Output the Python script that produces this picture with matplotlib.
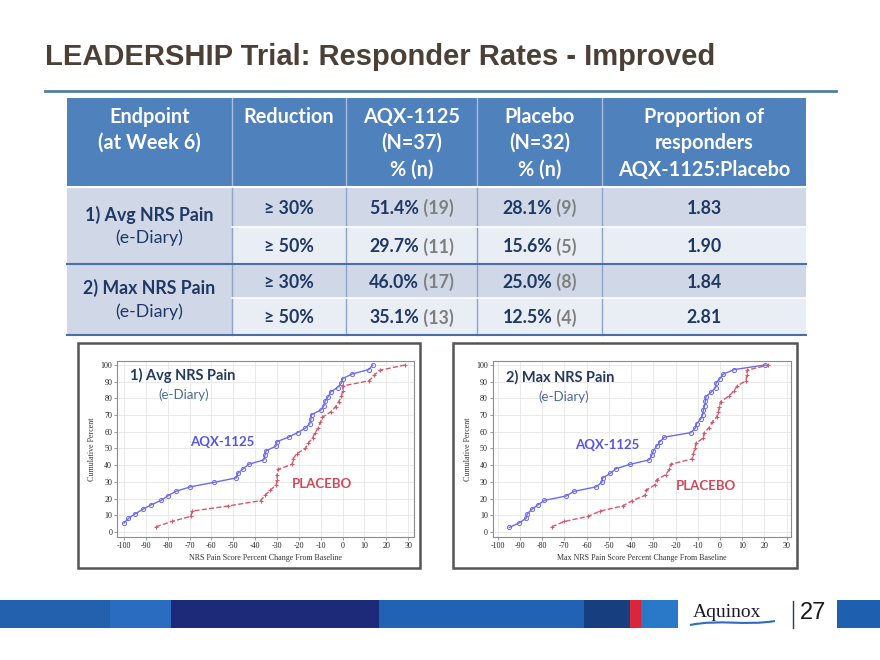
import numpy as np
import matplotlib
matplotlib.use("Agg")
import matplotlib.pyplot as plt
from matplotlib.patches import Rectangle, PathPatch
from matplotlib.path import Path

plt.rcParams["axes.unicode_minus"] = False

# ---- table data ----
header_cols = [["Endpoint", "(at Week 6)"],
               ["Reduction"],
               ["AQX-1125", "(N=37)", "% (n)"],
               ["Placebo", "(N=32)", "% (n)"],
               ["Proportion of", "responders", "AQX-1125:Placebo"]]
endpoints = [("1) Avg NRS Pain", "(e-Diary)"), ("2) Max NRS Pain", "(e-Diary)")]
reductions = ["\u2265 30%", "\u2265 50%", "\u2265 30%", "\u2265 50%"]
aqx_pct = ["51.4%", "29.7%", "46.0%", "35.1%"]
aqx_n = ["(19)", "(11)", "(17)", "(13)"]
pbo_pct = ["28.1%", "15.6%", "25.0%", "12.5%"]
pbo_n = ["(9)", "(5)", "(8)", "(4)"]
ratios = ["1.83", "1.90", "1.84", "2.81"]

# ---- cumulative distribution data ----
avg_aqx_x = [-100, -98, -95, -91.5, -87.7, -83, -80, -76.4, -69.7, -59, -48.6, -48,
             -45.5, -43, -36, -35.5, -35, -30.5, -30, -24.7, -20.6, -17, -15, -14.5,
             -14.2, -10, -8.5, -8, -6.5, -5.5, -2.3, -0.5, 0, 4.4, 12, 13.8]
avg_aqx_y = [5.4, 8.1, 10.8, 13.5, 16.2, 18.9, 21.6, 24.3, 27.0, 29.7, 32.4, 35.1,
             37.8, 40.5, 43.2, 45.9, 48.6, 51.4, 54.1, 56.8, 59.5, 62.2, 64.9, 67.6,
             70.3, 73.0, 75.7, 78.4, 81.1, 83.8, 86.5, 89.2, 91.9, 94.6, 97.3, 100]
avg_pbo_x = [-85.4, -78.2, -69.4, -68.8, -52.2, -37.5, -35.5, -33.2, -30.3, -30, -29.9,
             -29.5, -23, -22.6, -21, -17, -15.8, -13.7, -12.6, -11, -10.2, -9.2, -5.4,
             -3.2, -1.7, -0.5, 0, 0.2, 12.3, 14.3, 17.2, 28.7]
avg_pbo_y = [3.1, 6.3, 9.4, 12.5, 15.6, 18.8, 21.9, 25.0, 28.1, 31.3, 34.4, 37.5, 40.6,
             43.8, 46.9, 50.0, 53.1, 56.3, 59.4, 62.5, 65.6, 68.8, 71.9, 75.0, 78.1,
             81.3, 84.4, 87.5, 90.6, 93.8, 96.9, 100]

max_aqx_x = [-94.8, -90.4, -87.3, -86.7, -84.7, -82, -79, -69.1, -65.8, -55.8, -53.2,
             -52.8, -49.3, -47, -40.5, -31.8, -30.7, -30, -28.5, -27, -25, -13.2, -11.1,
             -10.5, -8.7, -7.8, -7.5, -6.9, -6.6, -6.3, -3.9, -2, -1.8, 0, 1.5, 6.5, 20.3]
max_aqx_y = [2.7, 5.4, 8.1, 10.8, 13.5, 16.2, 18.9, 21.6, 24.3, 27.0, 29.7, 32.4, 35.1,
             37.8, 40.5, 43.2, 45.9, 48.6, 51.4, 54.1, 56.8, 59.5, 62.2, 64.9, 67.6,
             70.3, 73.0, 75.7, 78.4, 81.1, 83.8, 86.5, 89.2, 91.9, 94.6, 97.3, 100]
max_pbo_x = [-75.7, -70, -59.2, -54, -43.8, -39.4, -33.7, -33.4, -29.4, -28.5, -24.3,
             -22.8, -22.2, -12.4, -12.1, -11.2, -10.9, -7.5, -7.2, -4.9, -3.6, -1.5,
             -0.7, -0.3, 0.3, 3.9, 6.2, 7.8, 11.7, 12, 12.2, 21.8]
max_pbo_y = avg_pbo_y

TFONT = ["Lato", "DejaVu Sans"]
NAVY = "#1f3864"
GRAY = "#7f7f7f"

fig = plt.figure(figsize=(8.8, 6.6), dpi=100)
bg = fig.add_axes([0, 0, 1, 1])
bg.set_xlim(0, 880)
bg.set_ylim(660, 0)
bg.axis("off")

# title + rule
bg.text(45, 65, "LEADERSHIP Trial: Responder Rates - Improved", fontsize=21,
        fontweight="bold", family="Liberation Sans", color="#4b3f36", va="baseline")
bg.plot([45, 836], [91, 91], color="#4f7ea0", lw=2)

# ---- table ----
col_x = [67, 232, 346, 477, 602, 806]
row_y = [98, 187, 227, 264, 298, 335]
bg.add_patch(Rectangle((col_x[0], row_y[0]), col_x[-1] - col_x[0], row_y[1] - row_y[0],
                       fc="#4f81bd", ec="none"))
for r in range(4):
    fc = "#d0d8e8" if r % 2 == 0 else "#e9edf4"
    bg.add_patch(Rectangle((col_x[1], row_y[r + 1]), col_x[-1] - col_x[1],
                           row_y[r + 2] - row_y[r + 1], fc=fc, ec="none"))
for g in range(2):
    bg.add_patch(Rectangle((col_x[0], row_y[1 + 2 * g]), col_x[1] - col_x[0],
                           row_y[3 + 2 * g] - row_y[1 + 2 * g], fc="#d0d8e8", ec="none"))
# grid lines
for cx in col_x[1:-1]:
    bg.plot([cx, cx], [row_y[0], row_y[1]], color="#a9bedd", lw=1)
    bg.plot([cx, cx], [row_y[1], row_y[-1]], color="#8ea4c8", lw=1)
bg.plot([col_x[0], col_x[-1]], [row_y[1], row_y[1]], color="white", lw=1.5)
for ry in [row_y[2], row_y[4]]:
    bg.plot([col_x[1], col_x[-1]], [ry, ry], color="white", lw=1.2)
for ry in [row_y[3], row_y[5]]:
    bg.plot([col_x[0], col_x[-1]], [ry, ry], color="#4a6fa8", lw=1.5)

line_y = [117, 143, 170]
for c, lines in enumerate(header_cols):
    cx = (col_x[c] + col_x[c + 1]) / 2
    for i, s in enumerate(lines):
        bg.text(cx, line_y[i], s, ha="center", va="center", fontsize=14.3,
                fontweight="bold", color="white", family=TFONT)

ep_y = [(215, 238), (288, 312)]
for g, (a, b) in enumerate(endpoints):
    cx = (col_x[0] + col_x[1]) / 2
    bg.text(cx, ep_y[g][0], a, ha="center", va="center", fontsize=12.8,
            fontweight="bold", color=NAVY, family=TFONT)
    bg.text(cx, ep_y[g][1], b, ha="center", va="center", fontsize=12.8,
            color=NAVY, family=TFONT)

renderer = fig.canvas.get_renderer()


def two_tone(cx, cy, a, b):
    full = bg.text(cx, cy, a + " " + b, ha="center", va="center", fontsize=12.8,
                   fontweight="bold", family=TFONT)
    bb = full.get_window_extent(renderer)
    full.remove()
    x0 = bg.transData.inverted().transform((bb.x0, bb.y0))[0]
    t1 = bg.text(x0, cy, a, ha="left", va="center", fontsize=12.8,
                 fontweight="bold", color=NAVY, family=TFONT)
    bg.annotate(" " + b, xy=(1, 0.5), xycoords=t1, ha="left", va="center",
                fontsize=12.8, fontweight="bold", color=GRAY, family=TFONT)


for r in range(4):
    cy = (row_y[r + 1] + row_y[r + 2]) / 2 + 1
    bg.text((col_x[1] + col_x[2]) / 2, cy, reductions[r], ha="center", va="center",
            fontsize=12.8, fontweight="bold", color=NAVY, family=TFONT)
    two_tone((col_x[2] + col_x[3]) / 2, cy, aqx_pct[r], aqx_n[r])
    two_tone((col_x[3] + col_x[4]) / 2, cy, pbo_pct[r], pbo_n[r])
    bg.text((col_x[4] + col_x[5]) / 2, cy, ratios[r], ha="center", va="center",
            fontsize=12.8, fontweight="bold", color=NAVY, family=TFONT)

# ---- chart frames ----
for x0, x1 in [(78, 420), (453, 797)]:
    bg.add_patch(Rectangle((x0, 343), x1 - x0, 225, fc="white", ec="#555555", lw=1.8))


def cum_plot(rect, xlim, ax_x, ax_y, pb_x, pb_y, xlabel, title, labpos):
    ax = fig.add_axes(rect)
    ax.set_xlim(*xlim)
    ax.set_ylim(-3, 102.4)
    ax.set_xticks(np.arange(-100, 31, 10))
    ax.set_yticks(np.arange(0, 101, 10))
    ax.grid(True, color="#e6e6e6", lw=0.6)
    ax.set_axisbelow(True)
    for sp in ax.spines.values():
        sp.set_color("#8c8c8c")
        sp.set_linewidth(0.8)
    ax.tick_params(labelsize=5.8, length=2, width=0.6, color="#8c8c8c", pad=1.5,
                   labelcolor="#222222")
    for lab in ax.get_xticklabels() + ax.get_yticklabels():
        lab.set_family("Liberation Serif")
    ax.plot(pb_x, pb_y, color="#d9576a", ls="--", lw=1, marker="+", ms=3.5, mew=0.8)
    ax.plot(ax_x, ax_y, color="#6b6bf2", ls="-", lw=1, marker="o", ms=3,
            mfc="none", mew=0.7)
    ax.set_xlabel(xlabel, fontsize=5.8, family="Liberation Serif", color="#333333",
                  labelpad=3)
    ax.set_ylabel("Cumulative Percent", fontsize=5.8, family="Liberation Serif",
                  color="#333333", labelpad=3)
    ax.text(labpos[0][0], labpos[0][1], title, fontsize=10.5, fontweight="bold",
            color="#243a5e", family=TFONT, va="center")
    ax.text(labpos[1][0], labpos[1][1], "(e-Diary)", fontsize=9.5,
            color="#4a6a9a", family=TFONT, va="center")
    ax.text(labpos[2][0], labpos[2][1], "AQX-1125", fontsize=9.5, fontweight="bold",
            color="#5656e6", family=TFONT, va="center")
    ax.text(labpos[3][0], labpos[3][1], "PLACEBO", fontsize=9.5, fontweight="bold",
            color="#d2485a", family=TFONT, va="center")
    return ax


cum_plot([117 / 880, (660 - 537) / 660, 297 / 880, 176 / 660], (-103.2, 32.7),
         avg_aqx_x, avg_aqx_y, avg_pbo_x, avg_pbo_y,
         "NRS Pain Score Percent Change From Baseline", "1) Avg NRS Pain",
         [(-97.3, 94), (-84.4, 82), (-69.8, 54), (-23, 28.7)])
cum_plot([492.7 / 880, (660 - 537) / 660, 298 / 880, 176 / 660], (-102.25, 31.8),
         max_aqx_x, max_aqx_y, max_pbo_x, max_pbo_y,
         "Max NRS Pain Score Percent Change From Baseline", "2) Max NRS Pain",
         [(-96.3, 92.8), (-81.9, 80.8), (-65.2, 52), (-19.8, 27.5)])

# ---- footer banner ----
segs = [(0, 110, "#2360ad"), (110, 171, "#2a6cc0"), (171, 379, "#1d2a7a"),
        (379, 584, "#2262b4"), (584, 630, "#173f80"), (630, 641, "#d9263a"),
        (641, 678, "#2a78c8"), (837, 880, "#1f5fb0")]
for a, b, c in segs:
    bg.add_patch(Rectangle((a, 600), b - a, 28, fc=c, ec="none"))
grad = np.linspace(0, 1, 200)[None, :]
bg.imshow(grad, extent=(171, 379, 628, 600), cmap="Blues_r", alpha=0.35,
          aspect="auto", vmin=-0.5, vmax=1.5)
bg.set_xlim(0, 880)
bg.set_ylim(660, 0)
bg.text(693, 617, "Aquinox", fontsize=14, family="Liberation Serif", color="#1a1a2e",
        va="baseline")
wave = Path([(690, 625), (720, 619), (745, 626), (775, 621)],
            [Path.MOVETO, Path.CURVE4, Path.CURVE4, Path.CURVE4])
bg.add_patch(PathPatch(wave, fc="none", ec="#2a6cc0", lw=1.5))
bg.plot([793, 793], [601, 628], color="#1f3a6a", lw=1)
bg.text(800, 613, "27", fontsize=17, family="Liberation Sans", color="#1a1a1a",
        va="center")

fig.savefig("out.png", dpi=100)
